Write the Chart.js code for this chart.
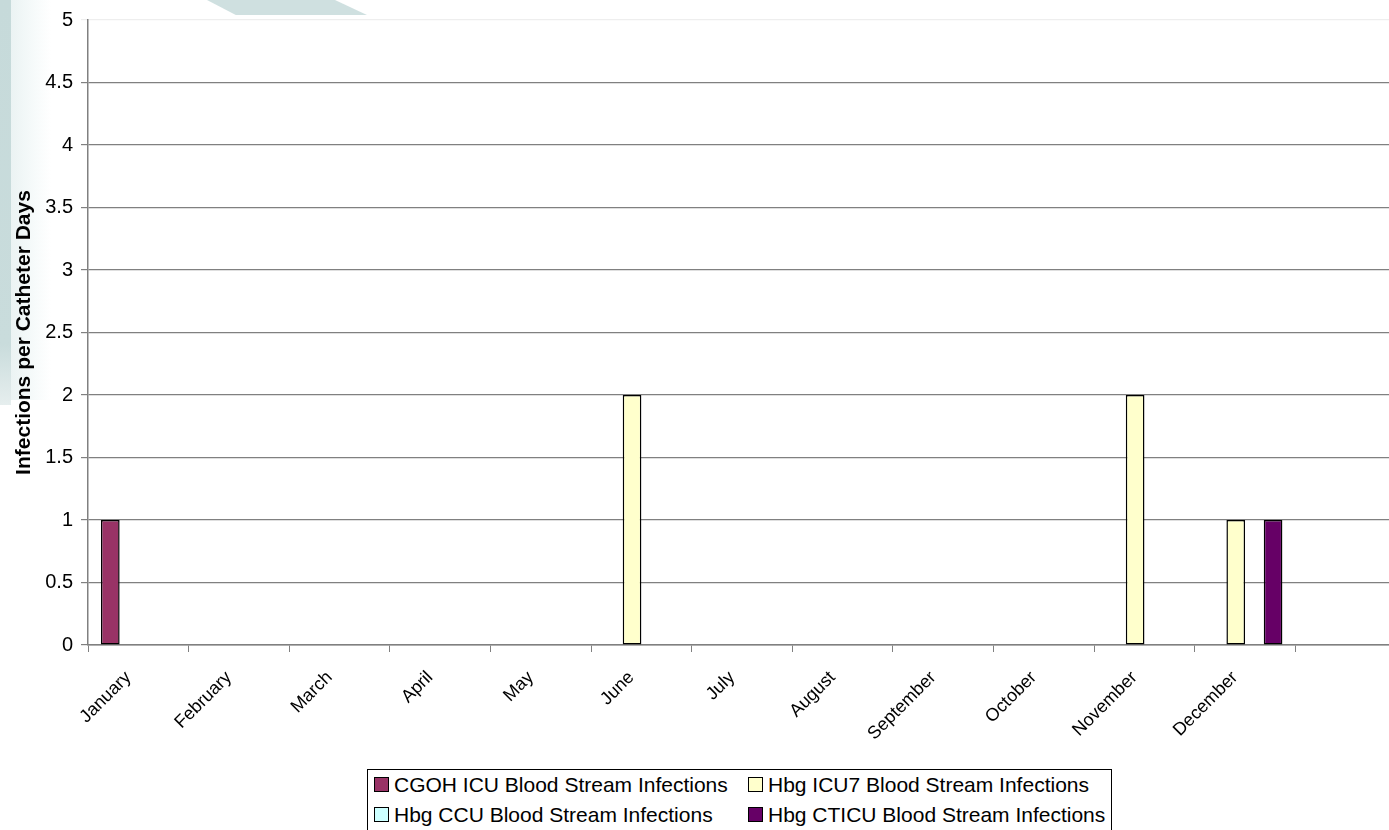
<!DOCTYPE html>
<html>
<head>
<meta charset="utf-8">
<script src="https://cdn.jsdelivr.net/npm/chart.js@4"></script>
<style>
  html, body { margin: 0; padding: 0; width: 1389px; height: 830px; overflow: hidden; background: #ffffff; font-family: Arial, "Liberation Sans", sans-serif; }
  #strip { position: absolute; left: 0; top: 0; width: 11px; height: 405px; background: linear-gradient(to bottom, #c6dada 0%, #c9dcdc 85%, #e6eeee 100%); }
  #panel { position: absolute; left: 11px; top: 0; width: 40px; height: 400px; background: linear-gradient(to right, #ebf3f3, #f7fbfb 60%, #ffffff); }
  #shape { position: absolute; left: 207px; top: 0; width: 160px; height: 15px; background: #cadddd; clip-path: polygon(0 0, 80% 0, 100% 100%, 18% 100%); opacity: 0.9; }
  #wrap { position: absolute; left: 0; top: 0; width: 1396px; height: 760px; }
  #legend { position: absolute; left: 367px; top: 769px; width: 745px; height: 80px; border: 1px solid #000; box-sizing: border-box; background: #fff; }
  .item { position: absolute; font-size: 21px; line-height: 24px; color: #000; white-space: nowrap; }
  .sw { display: inline-block; width: 13px; height: 13px; border: 1.5px solid #000; margin-right: 5px; vertical-align: 0px; }
</style>
</head>
<body>
<div id="strip"></div>
<div id="panel"></div>
<div id="shape"></div>
<div id="wrap"><canvas id="c"></canvas></div>
<div id="legend"></div>
<script>
const categories = ['January','February','March','April','May','June','July','August','September','October','November','December',''];
const seriesNames = ['CGOH ICU Blood Stream Infections','Hbg ICU7 Blood Stream Infections','Hbg CCU Blood Stream Infections','Hbg CTICU Blood Stream Infections'];
const cgohICU = [1,0,0,0,0,0,0,0,0,0,0,0,null];
const hbgICU7 = [0,0,0,0,0,2,0,0,0,0,2,1,null];
const hbgCCU  = [0,0,0,0,0,0,0,0,0,0,0,0,null];
const hbgCTICU= [0,0,0,0,0,0,0,0,0,0,0,1,null];
const seriesColors = ['#993366','#FFFFCC','#CCFFFF','#660066'];
const yTickLabels = ['0','0.5','1','1.5','2','2.5','3','3.5','4','4.5','5'];
const yTitle = 'Infections per Catheter Days';

const FONT = 'Arial, "Liberation Sans", sans-serif';
const seriesValues = [cgohICU, hbgICU7, hbgCCU, hbgCTICU];

const datasets = seriesNames.map((n,i)=>({
  label: n,
  data: seriesValues[i],
  backgroundColor: seriesColors[i],
  borderColor: '#000000',
  borderWidth: 1.5,
  borderSkipped: false,
  categoryPercentage: 0.742,
  barPercentage: 1.0
}));

new Chart(document.getElementById('c'), {
  type: 'bar',
  data: { labels: categories, datasets },
  options: {
    responsive: true,
    maintainAspectRatio: false,
    animation: false,
    layout: { padding: { top: 15, right: 0, left: 0, bottom: 0 } },
    plugins: { legend: { display: false }, tooltip: { enabled: false } },
    scales: {
      x: {
        offset: true,
        grid: { offset: true, drawOnChartArea: false, drawTicks: true, tickLength: 7, color: '#808080', lineWidth: 1 },
        border: { color: '#808080', width: 1.5 },
        ticks: { autoSkip: false, maxRotation: 45, minRotation: 45, color: '#000', padding: 15, labelOffset: -10, font: { family: FONT, size: 18 } },
        afterFit: (s) => { s.height = 115; }
      },
      y: {
        min: 0, max: 5,
        ticks: { stepSize: 0.5, color: '#000', padding: 8, font: { family: FONT, size: 20 },
                 callback: (v, i) => yTickLabels[i] },
        grid: { color: (ctx) => (ctx.tick && ctx.tick.value === 5) ? '#eeeeee' : '#808080', lineWidth: 1.2, tickLength: 7, drawTicks: true },
        border: { color: '#808080', width: 1.5 },
        title: { display: true, text: yTitle, color: '#000', font: { family: FONT, size: 21, weight: 'bold' }, padding: { top: 12, bottom: 0 } },
        afterFit: (s) => { s.width = 88; }
      }
    }
  }
});

const leg = document.getElementById('legend');
const pos = [[6,3],[380,3],[6,33],[380,33]];
seriesNames.forEach((n,i)=>{
  const d = document.createElement('div');
  d.className = 'item';
  d.style.left = pos[i][0] + 'px';
  d.style.top = pos[i][1] + 'px';
  const s = document.createElement('span');
  s.className = 'sw';
  s.style.background = seriesColors[i];
  d.appendChild(s);
  d.appendChild(document.createTextNode(n));
  leg.appendChild(d);
});
</script>
</body>
</html>
